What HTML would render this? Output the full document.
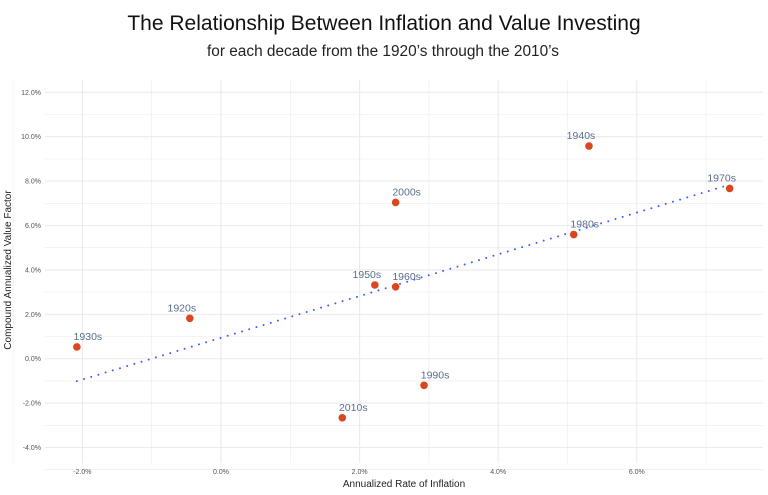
<!DOCTYPE html>
<html><head><meta charset="utf-8"><style>
html,body{margin:0;padding:0;background:#fff;width:768px;height:495px;overflow:hidden}
svg{display:block;font-family:"Liberation Sans",sans-serif}
</style></head><body>
<svg id="c" width="768" height="495">
<text x="384" y="30" text-anchor="middle" font-size="21" fill="#111">The Relationship Between Inflation and Value Investing</text>
<text x="383" y="56" text-anchor="middle" font-size="15.4" fill="#222">for each decade from the 1920’s through the 2010’s</text>
<g id="grid"></g><g id="ticks"></g><g id="trend"></g><g id="pts"></g>
<text x="404" y="487" text-anchor="middle" font-size="10" fill="#222">Annualized Rate of Inflation</text>
<text transform="translate(11,270) rotate(-90)" text-anchor="middle" font-size="10" fill="#222">Compound Annualized Value Factor</text>
</svg>
<script>
const decades=["1920s","1930s","1940s","1950s","1960s","1970s","1980s","1990s","2000s","2010s"];
const inflation=[-0.45,-2.08,5.31,2.22,2.52,7.34,5.09,2.93,2.52,1.75];
const valueFactor=[1.82,0.53,9.58,3.32,3.24,7.67,5.59,-1.2,7.04,-2.66];
const xTicks=[-2,0,2,4,6];
const yTicks=[-4,-2,0,2,4,6,8,10,12];
const labelSide=[-1,1,-1,-1,1,-1,1,1,1,1];
const NS="http://www.w3.org/2000/svg";
const L=45,R=763,T=80,B=463;
const xs=v=>221+v*69.3, ys=v=>358.7-v*22.2;
function mk(t,a,p){const e=document.createElementNS(NS,t);for(const k in a)e.setAttribute(k,a[k]);p.appendChild(e);return e;}
const grid=document.getElementById('grid'),ticks=document.getElementById('ticks');
for(let v=-3;v<=7;v++){const l=mk('line',{x1:xs(v),x2:xs(v),y1:T,y2:B,stroke:'#ebebeb','stroke-width':v%2===0?1.1:0.6},grid);

}
for(let v=-5;v<=12;v++){const l=mk('line',{x1:L,x2:R,y1:ys(v),y2:ys(v),stroke:'#ebebeb','stroke-width':v%2===0?1.1:0.6},grid);

}
xTicks.forEach(v=>{const t=mk('text',{x:xs(v),y:474,'text-anchor':'middle','font-size':7,fill:'#555'},ticks);t.textContent=v.toFixed(1)+'%';

});
yTicks.forEach(v=>{const t=mk('text',{x:41,y:ys(v)+2.5,'text-anchor':'end','font-size':7,fill:'#555'},ticks);t.textContent=v.toFixed(1)+'%';

});
const n=inflation.length,mx=inflation.reduce((a,b)=>a+b)/n,my=valueFactor.reduce((a,b)=>a+b)/n;
let sxy=0,sxx=0;for(let i=0;i<n;i++){sxy+=(inflation[i]-mx)*(valueFactor[i]-my);sxx+=(inflation[i]-mx)**2;}
const sl=sxy/sxx,ic=my-sl*mx,x0=Math.min(...inflation),x1=Math.max(...inflation);
const tl=mk('line',{x1:xs(x0),y1:ys(ic+sl*x0),x2:xs(x1),y2:ys(ic+sl*x1),stroke:'#3b5bff','stroke-width':2,'stroke-dasharray':'0 7.5','stroke-linecap':'round'},document.getElementById('trend'));


const pts=document.getElementById('pts');
decades.forEach((d,i)=>{const c=mk('circle',{cx:xs(inflation[i]),cy:ys(valueFactor[i]),r:3.8,fill:'#d9461f'},pts);


const dx=labelSide[i]<0?-8:11;
const t=mk('text',{x:xs(inflation[i])+dx,y:ys(valueFactor[i])-7,'text-anchor':'middle','font-size':10.5,fill:'#5a6e8c'},pts);t.textContent=d;

});
</script>
</body></html>
